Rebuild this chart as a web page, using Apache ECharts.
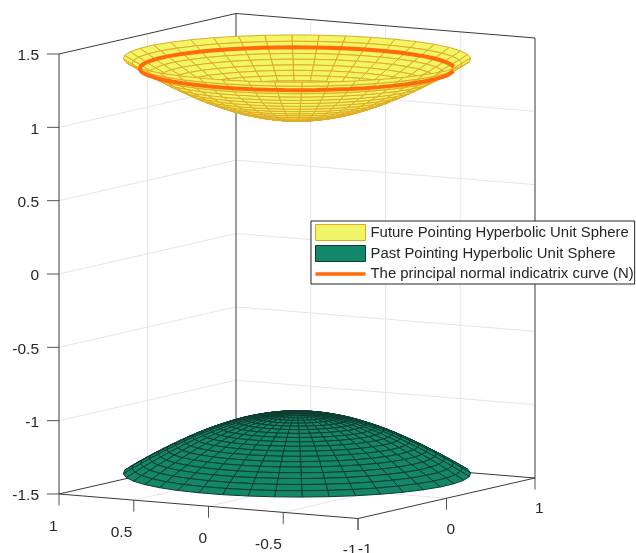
<!DOCTYPE html>
<html><head><meta charset="utf-8">
<style>html,body{margin:0;padding:0;background:#fff}#c{width:636px;height:553px}</style>
<script src="https://cdn.jsdelivr.net/npm/echarts@6/dist/echarts.min.js"></script>
</head><body><div id="c"></div>
<script>
// ---- data ----
const xTicks = [1, 0.5, 0, -0.5, -1];
const yTicks = [-1, 0, 1];
const zTicks = [-1.5, -1, -0.5, 0, 0.5, 1, 1.5];
const xTickLabels = ['1', '0.5', '0', '-0.5', '-1'];
const yTickLabels = ['-1', '0', '1'];
const zTickLabels = ['-1.5', '-1', '-0.5', '0', '0.5', '1', '1.5'];
const ringRadii = [0, 0.05, 0.1, 0.15, 0.2, 0.25, 0.3, 0.35, 0.4, 0.45, 0.5, 0.55, 0.6, 0.65, 0.7, 0.75, 0.8, 0.85, 0.9, 0.95, 1];
const futureHeights = [1, 1.001, 1.005, 1.011, 1.02, 1.031, 1.044, 1.059, 1.077, 1.097, 1.118, 1.141, 1.166, 1.193, 1.221, 1.25, 1.281, 1.312, 1.345, 1.379, 1.414];
const pastHeights = [-1, -1.001, -1.005, -1.011, -1.02, -1.031, -1.044, -1.059, -1.077, -1.097, -1.118, -1.141, -1.166, -1.193, -1.221, -1.25, -1.281, -1.312, -1.345, -1.379, -1.414];
const spokeAngles = [3.7, 12.7, 21.7, 30.7, 39.7, 48.7, 57.7, 66.7, 75.7, 84.7, 93.7, 102.7, 111.7, 120.7, 129.7, 138.7, 147.7, 156.7, 165.7, 174.7, 183.7, 192.7, 201.7, 210.7, 219.7, 228.7, 237.7, 246.7, 255.7, 264.7, 273.7, 282.7, 291.7, 300.7, 309.7, 318.7, 327.7, 336.7, 345.7, 354.7];
// the curve passes behind the rim at its far-left end, so it starts and stops there
const curveAngles = [155, 160, 166, 172, 178, 184, 190, 196, 202, 208, 214, 220, 226, 232, 238, 244, 250, 256, 262, 268, 274, 280, 286, 292, 298, 304, 310, 316, 322, 328, 334, 340, 346, 352, 358, 364, 370, 376, 382, 388, 394, 400, 406, 412, 418, 424, 430, 436, 442, 448, 454, 460, 466, 472, 478, 484, 490, 496, 500, 504];
const curveRadius = 0.905;
const curveHeight = 1.345;
const futureName = 'Future Pointing Hyperbolic Unit Sphere';
const pastName = 'Past Pointing Hyperbolic Unit Sphere';
const curveName = 'The principal normal indicatrix curve (N)';

// ---- view of the 3D box (orthographic) on a hidden 2D plane ----
const W = 636, H = 553;
const O = [297, 266];             // projection of (0,0,0)
const ex = [-149.5, -12.25], ey = [88.5, -20.25], ez = [0, -146.67];
const proj = (x, y, z) => [O[0] + ex[0] * x + ey[0] * y, O[1] + ex[1] * x + ey[1] * y + ez[1] * z];
const depth = (x, y, z) => 0.99 * (-0.509 * x - 0.861 * y) + 0.116 * z;
const rad = d => d * Math.PI / 180;
const polar = (r, a, z) => [r * Math.cos(rad(a)), r * Math.sin(rad(a)), z];

function cells(heights) {
  const out = [];
  for (let i = 0; i < ringRadii.length - 1; i++) {
    for (let j = 0; j < spokeAngles.length; j++) {
      const k = (j + 1) % spokeAngles.length;
      const c = [polar(ringRadii[i], spokeAngles[j], heights[i]), polar(ringRadii[i + 1], spokeAngles[j], heights[i + 1]),
                 polar(ringRadii[i + 1], spokeAngles[k], heights[i + 1]), polar(ringRadii[i], spokeAngles[k], heights[i])];
      const d = c.reduce((s, p) => s + depth(p[0], p[1], p[2]), 0) / 4;
      out.push({ d, p: c.map(p => proj(p[0], p[1], p[2])) });
    }
  }
  out.sort((a, b) => a.d - b.d);
  return out.map(c => ({ value: [c.p[0][0], c.p[0][1], c.p[1][0], c.p[1][1], c.p[2][0], c.p[2][1], c.p[3][0], c.p[3][1]] }));
}
function meshSeries(name, heights, fill, edge, z) {
  return {
    type: 'custom', name, coordinateSystem: 'cartesian2d', data: cells(heights), z, clip: false,
    silent: true, animation: false, progressive: 0, itemStyle: { color: fill, borderColor: edge },
    renderItem(params, api) {
      const pts = [];
      for (let i = 0; i < 4; i++) pts.push(api.coord([api.value(2 * i), api.value(2 * i + 1)]));
      return { type: 'polygon', shape: { points: pts }, style: { fill, stroke: edge, lineWidth: 1, lineJoin: 'round' } };
    }
  };
}
const segs = [];
const seg = (a, b, kind) => segs.push({ value: [...proj(...a), ...proj(...b), kind] });
const zb = zTicks[0], zt = zTicks[zTicks.length - 1];
const GRID = 0, BOX = 1;
xTicks.forEach(x => { if (Math.abs(x) < 1) { seg([x, -1, zb], [x, 1, zb], GRID); seg([x, 1, zb], [x, 1, zt], GRID); } });
yTicks.forEach(y => { if (Math.abs(y) < 1) { seg([1, y, zb], [-1, y, zb], GRID); seg([1, y, zb], [1, y, zt], GRID); } });
zTicks.forEach(z => { if (z > zb && z < zt) { seg([1, -1, z], [1, 1, z], GRID); seg([1, 1, z], [-1, 1, z], GRID); } });
seg([1, -1, zt], [1, 1, zt], BOX); seg([1, 1, zt], [-1, 1, zt], BOX);
seg([1, -1, zb], [1, -1, zt], BOX); seg([1, 1, zb], [1, 1, zt], BOX); seg([-1, 1, zb], [-1, 1, zt], BOX);
seg([1, -1, zb], [-1, -1, zb], BOX); seg([-1, -1, zb], [-1, 1, zb], BOX);
seg([1, -1, zb], [1, 1, zb], BOX); seg([1, 1, zb], [-1, 1, zb], BOX);
const tickLen = 11.5, zTickLen = 12;
const ticksData = [];
xTicks.forEach(x => ticksData.push([...proj(x, -1, zb), 0, tickLen]));
yTicks.forEach(y => ticksData.push([...proj(-1, y, zb), 0, tickLen]));
zTicks.forEach(z => ticksData.push([...proj(1, -1, z), -zTickLen, 0]));
const labels = [];
xTicks.forEach((x, i) => labels.push({ value: [...proj(x, -1, zb)], t: xTickLabels[i], dx: -1.5, dy: 32.5, a: 'right' }));
yTicks.forEach((y, i) => labels.push({ value: [...proj(-1, y, zb)], t: yTickLabels[i], dx: 0, dy: 31, a: 'left' }));
zTicks.forEach((z, i) => labels.push({ value: [...proj(1, -1, z)], t: zTickLabels[i], dx: -20, dy: 2, a: 'right' }));

const curveData = curveAngles.map(a => { const p = polar(curveRadius, a, curveHeight); return proj(p[0], p[1], p[2]); });

const TEXT = '#262626';
const chart = echarts.init(document.getElementById('c'), null, { renderer: 'canvas' });
chart.setOption({
  animation: false,
  backgroundColor: '#fff',
  grid: { left: 0, right: 0, top: 0, bottom: 0 },
  xAxis: { type: 'value', min: 0, max: W, show: false },
  yAxis: { type: 'value', min: 0, max: H, inverse: true, show: false },
  legend: {
    orient: 'vertical', left: 311, top: 221, padding: [3, 1, 2, 4], itemGap: 4, itemWidth: 50, itemHeight: 16,
    backgroundColor: '#fff', borderColor: TEXT, borderWidth: 1, borderRadius: 0, selectedMode: false, z: 10,
    textStyle: { color: TEXT, fontFamily: '"Liberation Sans"', fontSize: 14.9 },
    data: [
      { name: futureName, icon: 'rect', itemStyle: { color: '#EFF566', borderColor: '#E3A91E', borderWidth: 1 } },
      { name: pastName, icon: 'rect', itemStyle: { color: '#12876A', borderColor: '#0E3D30', borderWidth: 1 } },
      { name: curveName, icon: 'path://M0 0L0 0M50 16L50 16M0 6.2H50V9.8H0Z', itemStyle: { color: '#FF6A0A', borderWidth: 0 } }
    ]
  },
  series: [
    {
      type: 'custom', name: 'segments', data: segs, z: 1, clip: false, silent: true, animation: false, progressive: 0,
      renderItem(params, api) {
        const a = api.coord([api.value(0), api.value(1)]), b = api.coord([api.value(2), api.value(3)]);
        const k = api.value(4);
        return { type: 'line', shape: { x1: a[0], y1: a[1], x2: b[0], y2: b[1] },
          style: { stroke: k === 0 ? '#E6E6E6' : '#3a3a3a', lineWidth: 1 }, z2: k };
      }
    },
    {
      type: 'custom', name: 'ticks', data: ticksData, z: 1, clip: false, silent: true, animation: false, progressive: 0,
      renderItem(params, api) {
        const a = api.coord([api.value(0), api.value(1)]);
        return { type: 'line', shape: { x1: a[0], y1: a[1], x2: a[0] + api.value(2), y2: a[1] + api.value(3) },
          style: { stroke: '#555', lineWidth: 1 } };
      }
    },
    meshSeries(futureName, futureHeights, '#F2F566', '#E0AC22', 3),
    meshSeries(pastName, pastHeights, '#12876A', '#0E3D30', 3),
    {
      type: 'line', name: curveName, data: curveData, z: 4, symbol: 'none', smooth: false, clip: false, silent: true,
      animation: false, lineStyle: { color: '#FF6A0A', width: 4 }, itemStyle: { color: '#FF6A0A' }
    },
    {
      type: 'custom', name: 'tickLabels', data: labels, z: 5, clip: false, silent: true, animation: false, progressive: 0,
      renderItem(params, api) {
        const d = labels[params.dataIndex];
        const a = api.coord([d.value[0], d.value[1]]);
        return { type: 'text', x: a[0] + d.dx, y: a[1] + d.dy,
          style: { text: d.t, fill: TEXT, font: '15.5px "Liberation Sans"', align: d.a, verticalAlign: 'middle' } };
      }
    }
  ]
});
</script></body></html>
